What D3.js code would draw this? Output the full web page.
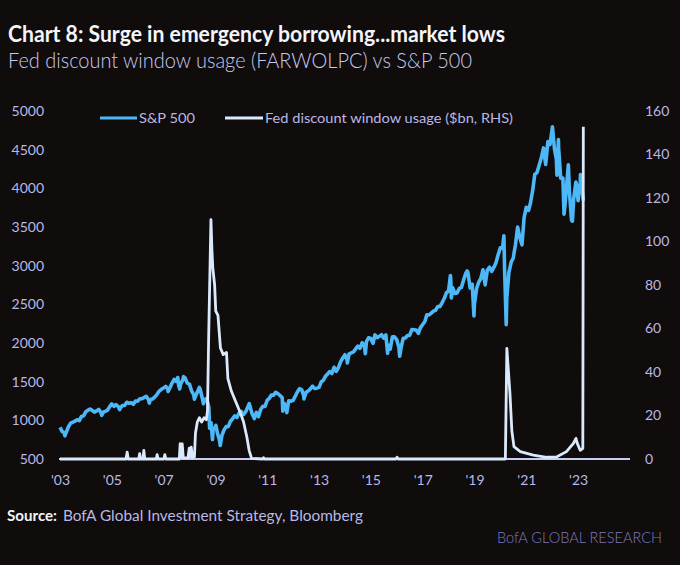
<!DOCTYPE html>
<html>
<head>
<meta charset="utf-8">
<script src="https://cdn.jsdelivr.net/npm/d3@7"></script>
<style>
  html, body { margin: 0; padding: 0; background: #0f0c0b; }
  svg { display: block; }
</style>
</head>
<body>
<svg id="chart" width="680" height="565"></svg>
<script>
// ---------------- DATA ----------------
// S&P 500 month-end closes, Jan 2003 .. Feb 2023
const spxMonthStart = "2003-01";
const spxMonthly = [
  856, 841, 848, 917, 964, 975, 990, 1008, 996, 1051, 1058, 1112,
  1131, 1145, 1126, 1107, 1121, 1141, 1102, 1104, 1115, 1130, 1174, 1212,
  1181, 1204, 1181, 1157, 1192, 1191, 1234, 1220, 1229, 1207, 1250, 1248,
  1280, 1281, 1295, 1311, 1270, 1270, 1277, 1304, 1336, 1378, 1401, 1418,
  1438, 1407, 1421, 1482, 1531, 1503, 1455, 1474, 1527, 1549, 1481, 1468,
  1379, 1331, 1323, 1386, 1400, 1280, 1267, 1283, 1166, 969, 896, 903,
  826, 735, 798, 873, 919, 919, 988, 1021, 1057, 1036, 1096, 1115,
  1074, 1105, 1169, 1187, 1089, 1031, 1102, 1049, 1141, 1183, 1181, 1258,
  1286, 1327, 1326, 1364, 1345, 1321, 1292, 1219, 1131, 1253, 1247, 1258,
  1312, 1366, 1409, 1398, 1310, 1362, 1379, 1407, 1441, 1412, 1416, 1426,
  1498, 1515, 1569, 1598, 1631, 1606, 1686, 1633, 1682, 1757, 1806, 1848,
  1783, 1860, 1872, 1884, 1924, 1960, 1931, 2003, 1972, 2018, 2068, 2059,
  1995, 2105, 2068, 2086, 2107, 2063, 2104, 1972, 1920, 2079, 2080, 2044,
  1940, 1932, 2060, 2065, 2097, 2099, 2174, 2171, 2168, 2126, 2199, 2239,
  2279, 2364, 2363, 2384, 2412, 2423, 2470, 2472, 2519, 2575, 2648, 2674,
  2824, 2714, 2641, 2648, 2705, 2718, 2816, 2902, 2914, 2712, 2760, 2507,
  2704, 2784, 2834, 2946, 2752, 2942, 2980, 2926, 2977, 3038, 3141, 3231,
  3226, 2954, 2585, 2912, 3044, 3100, 3271, 3500, 3363, 3270, 3622, 3756,
  3714, 3811, 3973, 4181, 4204, 4298, 4395, 4523, 4308, 4605, 4567, 4766,
  4516, 4374, 4530, 4132, 4132, 3785, 4130, 3955, 3586, 3872, 4080, 3840,
  4077, 3970
];
// S&P 500 intra-month swings visible in the weekly line
const spxExtra = [
  ["2003-01-02", 909], ["2003-03-11", 800], ["2004-08-12", 1064], ["2005-04-20", 1138],
  ["2006-06-13", 1223], ["2007-03-05", 1374], ["2007-07-19", 1553], ["2007-08-15", 1406],
  ["2007-10-09", 1565], ["2008-03-10", 1273], ["2008-05-19", 1426], ["2008-07-15", 1214],
  ["2008-10-10", 899], ["2008-11-20", 752], ["2009-01-06", 935], ["2009-03-09", 676],
  ["2010-04-23", 1217], ["2010-07-02", 1022], ["2011-04-29", 1364], ["2011-08-08", 1119],
  ["2011-10-03", 1099], ["2012-06-01", 1278], ["2014-02-03", 1741], ["2014-10-15", 1862],
  ["2015-08-25", 1867], ["2016-02-11", 1829], ["2018-01-26", 2873], ["2018-02-08", 2581],
  ["2018-09-20", 2931], ["2018-12-24", 2351], ["2020-02-19", 3386], ["2020-03-23", 2237],
  ["2022-01-03", 4797], ["2022-03-08", 4170], ["2022-03-29", 4632], ["2022-06-16", 3667],
  ["2022-08-16", 4305], ["2022-10-12", 3577], ["2022-12-13", 4019], ["2023-02-02", 4179],
  ["2023-03-13", 3855], ["2023-03-15", 3892]
];
// Fed discount window usage ($bn)
const fedDates = [
  "2003-01-01", "2005-07-20", "2005-08-05", "2005-08-20", "2006-01-15", "2006-01-28", "2006-02-10",
  "2006-03-15", "2006-03-28", "2006-04-10", "2006-09-20", "2006-10-01", "2006-10-15",
  "2007-01-05", "2007-01-18", "2007-02-01", "2007-08-10", "2007-08-22", "2007-09-05", "2007-09-20",
  "2007-10-05", "2007-12-10", "2007-12-28", "2008-01-10", "2008-01-25", "2008-02-10",
  "2008-03-10", "2008-03-25", "2008-04-20", "2008-05-20", "2008-06-20", "2008-07-25", "2008-08-25",
  "2008-09-10", "2008-09-28", "2008-10-29", "2008-11-12", "2008-11-24", "2008-12-20", "2009-01-05",
  "2009-02-05", "2009-03-12", "2009-04-20", "2009-06-05", "2009-06-25", "2009-08-15", "2009-10-05",
  "2009-12-20", "2010-02-01", "2010-03-20", "2010-04-20", "2010-05-25", "2010-11-01", "2010-11-10",
  "2010-11-20", "2015-12-20", "2016-01-05", "2016-01-20", "2020-03-11", "2020-04-01", "2020-05-15",
  "2020-06-10", "2020-07-10", "2020-10-08", "2021-04-08", "2021-10-15", "2022-03-08", "2022-07-20",
  "2022-10-26", "2022-12-01", "2022-12-20", "2023-01-30", "2023-03-08", "2023-03-15"
];
const fedValues = [
  0, 0, 3.2, 0, 0, 2.5, 0,
  0, 4, 0, 0, 2, 0,
  0, 2, 0, 0, 7, 1, 7,
  0.5, 0.5, 5, 1, 5.5, 0.5,
  1, 12, 17, 19, 17, 19, 18,
  22, 58, 110, 96, 88, 80, 68,
  66, 51, 48, 49, 37, 31, 27,
  21, 17, 10, 4, 0.3, 0, 0.6,
  0, 0, 0.8, 0, 0, 50.9, 30,
  13, 5.7, 3.4, 1.8, 0.8, 1, 3.4,
  7.2, 9.5, 7.2, 4, 4.9, 152.8
];
const leftTicks = [500, 1000, 1500, 2000, 2500, 3000, 3500, 4000, 4500, 5000];
const rightTicks = [0, 20, 40, 60, 80, 100, 120, 140, 160];
const xTickYears = [2003, 2005, 2007, 2009, 2011, 2013, 2015, 2017, 2019, 2021, 2023];

const titleText = "Chart 8: Surge in emergency borrowing...market lows";
const subtitleText = "Fed discount window usage (FARWOLPC) vs S&P 500";
const legendLabels = ["S&P 500", "Fed discount window usage ($bn, RHS)"];

// ---------------- BUILD ----------------
const parse = d3.timeParse("%Y-%m-%d");
const start = d3.timeParse("%Y-%m")(spxMonthStart);
const spx = spxMonthly.map((v, i) => ({ date: d3.timeDay.offset(d3.timeMonth.offset(start, i + 1), -1), value: v }))
  .concat(spxExtra.map(d => ({ date: parse(d[0]), value: d[1] })))
  .sort((a, b) => a.date - b.date);
const fed = fedDates.map((d, i) => ({ date: parse(d), value: fedValues[i] }));

const C = {
  bg: "#0f0c0b", spx: "#4cb8f8", fed: "#dbe9fc", label: "#b9b8e8",
  sub: "#c9c8f2", axis: "#c3cdf0", brand: "#7e78bc"
};

const svg = d3.select("#chart");
svg.append("rect").attr("width", 680).attr("height", 565).attr("fill", C.bg);

const x = d3.scaleTime().domain([new Date(2003, 0, 1), new Date(2025, 0, 1)]).range([60, 630]);
const yL = d3.scaleLinear().domain([500, 5000]).range([459, 111]);
const yR = d3.scaleLinear().domain([0, 160]).range([459, 111]);

// Title & subtitle
svg.append("text").attr("x", 8).attr("y", 42)
  .attr("font-family", "Lato, 'Open Sans', sans-serif").attr("font-weight", 700).attr("font-size", 22)
  .attr("fill", "#f4f4fb").attr("textLength", 497).attr("lengthAdjust", "spacingAndGlyphs")
  .text(titleText);
svg.append("text").attr("x", 8).attr("y", 68)
  .attr("font-family", "Lato, 'Open Sans', sans-serif").attr("font-weight", 300).attr("font-size", 22)
  .attr("fill", C.sub).attr("textLength", 464).attr("lengthAdjust", "spacingAndGlyphs")
  .text(subtitleText);

// Axes
const axisFont = "Lato, 'Open Sans', sans-serif";
const gL = svg.append("g").attr("transform", "translate(44,0)")
  .call(d3.axisLeft(yL).tickValues(leftTicks).tickSize(0).tickPadding(0).tickFormat(d3.format("d")));
const gR = svg.append("g").attr("transform", "translate(645,0)")
  .call(d3.axisRight(yR).tickValues(rightTicks).tickSize(0).tickPadding(0).tickFormat(d3.format("d")));
const gX = svg.append("g").attr("transform", "translate(0,459)")
  .call(d3.axisBottom(x).tickValues(xTickYears.map(y => new Date(y, 0, 1))).tickSize(0).tickPadding(16)
    .tickFormat(d => "'" + d3.timeFormat("%y")(d)));
[gL, gR, gX].forEach(g => {
  g.select(".domain").remove();
  g.selectAll("text").attr("fill", C.label).attr("font-family", axisFont).attr("font-size", 14);
});

// Lines
const lineL = d3.line().x(d => x(d.date)).y(d => yL(d.value));
const lineR = d3.line().x(d => x(d.date)).y(d => yR(d.value));

svg.append("path").datum(spx).attr("d", lineL)
  .attr("fill", "none").attr("stroke", C.spx).attr("stroke-width", 3.6).attr("stroke-linejoin", "round");

// baseline axis
svg.append("line").attr("x1", x.range()[0] - 1).attr("x2", x.range()[1]).attr("y1", yR(0)).attr("y2", yR(0))
  .attr("stroke", C.axis).attr("stroke-width", 2);

svg.append("path").datum(fed).attr("d", lineR)
  .attr("fill", "none").attr("stroke", C.fed).attr("stroke-width", 2.8).attr("stroke-linejoin", "round");

// Legend
const legend = svg.append("g").attr("font-family", axisFont).attr("font-size", 14);
const legItems = [
  { x1: 100, x2: 137, tx: 139, w: 56, color: C.spx, label: legendLabels[0] },
  { x1: 225, x2: 263, tx: 265, w: 248, color: C.fed, label: legendLabels[1] }
];
legItems.forEach(it => {
  legend.append("line").attr("x1", it.x1).attr("x2", it.x2).attr("y1", 118).attr("y2", 118)
    .attr("stroke", it.color).attr("stroke-width", 3);
  legend.append("text").attr("x", it.tx).attr("y", 123).attr("fill", C.label)
    .attr("textLength", it.w).attr("lengthAdjust", "spacingAndGlyphs").text(it.label);
});

// Source
svg.append("text").attr("x", 7).attr("y", 521)
  .attr("font-family", axisFont).attr("font-size", 14.5).attr("font-weight", 700).attr("fill", "#f2f2fa")
  .attr("textLength", 50).attr("lengthAdjust", "spacingAndGlyphs").text("Source:");
svg.append("text").attr("x", 63).attr("y", 521)
  .attr("font-family", axisFont).attr("font-size", 14.5).attr("fill", C.label)
  .attr("textLength", 300).attr("lengthAdjust", "spacingAndGlyphs")
  .text("BofA Global Investment Strategy, Bloomberg");

svg.append("text").attr("x", 662).attr("y", 543).attr("text-anchor", "end")
  .attr("font-family", axisFont).attr("font-weight", 300).attr("font-size", 16)
  .attr("fill", C.brand).attr("textLength", 165).attr("lengthAdjust", "spacingAndGlyphs")
  .text("BofA GLOBAL RESEARCH");
</script>
</body>
</html>
